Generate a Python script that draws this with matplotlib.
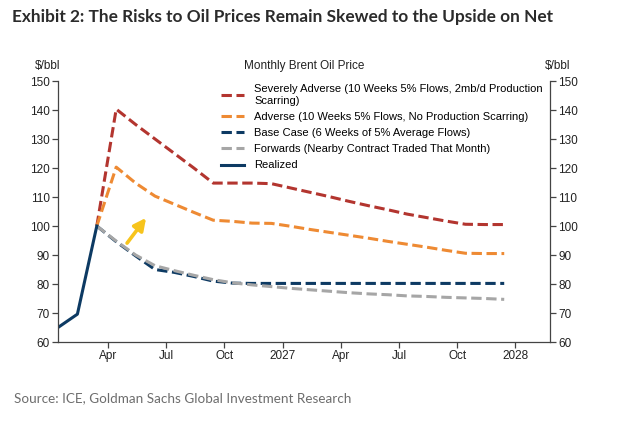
import matplotlib as mpl
mpl.use('Agg')
import matplotlib.pyplot as plt
import numpy as np

# months since Jan 2026, points drawn a bit before mid-month
months = np.arange(24) + 0.42

realized = [65.0, 69.6, 100.0]

severe = [100.0, 140.3, 135.0, 130.0, 125.0, 120.0, 114.8, 114.8, 114.8, 114.6,
          113.1, 111.6, 110.1, 108.5, 107.0, 105.6, 104.1, 102.9, 101.7, 100.6,
          100.5, 100.5]
adverse = [100.0, 120.3, 114.8, 110.3, 107.5, 104.7, 102.0, 101.6, 101.0, 100.9,
           99.9, 98.8, 97.8, 96.8, 95.8, 94.7, 93.7, 92.7, 91.6, 90.6,
           90.5, 90.5]
base = [100.0, 94.6, 89.7, 85.0, 84.0, 82.6, 81.0, 80.3, 80.2, 80.2,
        80.2, 80.2, 80.2, 80.2, 80.2, 80.2, 80.2, 80.2, 80.2, 80.2,
        80.2, 80.2]
forwards = [100.0, 94.8, 90.0, 86.3, 84.6, 83.0, 81.5, 80.4, 79.7, 79.1,
            78.5, 78.0, 77.5, 77.0, 76.6, 76.3, 75.9, 75.7, 75.4, 75.2,
            75.0, 74.7]

tick_pos = [3, 6, 9, 12, 15, 18, 21, 24]
tick_labels = ['Apr', 'Jul', 'Oct', '2027', 'Apr', 'Jul', 'Oct', '2028']

labels = ['Severely Adverse (10 Weeks 5% Flows, 2mb/d Production\nScarring)',
          'Adverse (10 Weeks 5% Flows, No Production Scarring)',
          'Base Case (6 Weeks of 5% Average Flows)',
          'Forwards (Nearby Contract Traded That Month)',
          'Realized']

c_red = '#B3352F'
c_orange = '#EE8A33'
c_navy = '#0D3A63'
c_grey = '#A6A6A6'
c_axis = '#444444'

mpl.rcParams['font.family'] = ['Liberation Sans', 'DejaVu Sans']
mpl.rcParams['font.size'] = 8.5

fig = plt.figure(figsize=(6.32, 4.34), dpi=100)
ax = fig.add_axes([58/632, 1 - 342/434, (550 - 58)/632, (342 - 81)/434])

lw = 2.2
dash = (3.4, 1.5)
scen_x = months[2:]
ax.plot(scen_x, severe, color=c_red, lw=lw, dashes=dash, label=labels[0])
ax.plot(scen_x, adverse, color=c_orange, lw=lw, dashes=dash, label=labels[1])
ax.plot(scen_x, base, color=c_navy, lw=lw, dashes=dash, label=labels[2])
ax.plot(scen_x, forwards, color=c_grey, lw=lw, dashes=dash, label=labels[3])
ax.plot(months[:3], realized, color=c_navy, lw=lw, label=labels[4])

ax.annotate('', xy=(4.96, 102.8), xytext=(3.98, 94.1),
            arrowprops=dict(arrowstyle='-|>', color='#F7C41C', lw=2.6,
                            mutation_scale=18, shrinkA=0, shrinkB=0))

ax.set_xlim(0.42, 25.78)
ax.set_ylim(60, 150)
ax.set_yticks(np.arange(60, 151, 10))
ax.set_xticks(tick_pos)
ax.set_xticklabels(tick_labels)

ax2 = ax.twinx()
ax2.set_ylim(60, 150)
ax2.set_yticks(np.arange(60, 151, 10))

for a in (ax, ax2):
    a.spines['top'].set_visible(False)
    for s in a.spines.values():
        s.set_color(c_axis)
        s.set_linewidth(0.9)
    a.tick_params(direction='out', length=4, width=0.9, color=c_axis,
                  labelcolor='#222222', labelsize=8.5, pad=2)
ax.spines['right'].set_visible(False)
ax2.spines['left'].set_visible(False)
ax2.spines['bottom'].set_visible(False)

fig.legend(loc='upper left', bbox_to_anchor=(221/632, 1 - 84/434),
           frameon=False, fontsize=8, handlelength=2.1, handletextpad=0.9,
           labelspacing=0.56, borderpad=0, borderaxespad=0)

fig.text(48/632, 1 - 66/434, '$/bbl', ha='center', va='center', fontsize=8.5, color='#222222')
fig.text(558/632, 1 - 66/434, '$/bbl', ha='center', va='center', fontsize=8.5, color='#222222')
fig.text(304/632, 1 - 66/434, 'Monthly Brent Oil Price', ha='center', va='center',
         fontsize=8.5, color='#222222')

fig.text(12/632, 1 - 17/434, 'Exhibit 2: The Risks to Oil Prices Remain Skewed to the Upside on Net',
         ha='left', va='center', fontsize=12.4, fontweight='bold', family='Lato', color='#2B2B2B')
fig.text(14/632, 1 - 398/434, 'Source: ICE, Goldman Sachs Global Investment Research',
         ha='left', va='center', fontsize=9.7, family='Lato', color='#6D6D6D')

fig.savefig('out.png', dpi=100, facecolor='white')
